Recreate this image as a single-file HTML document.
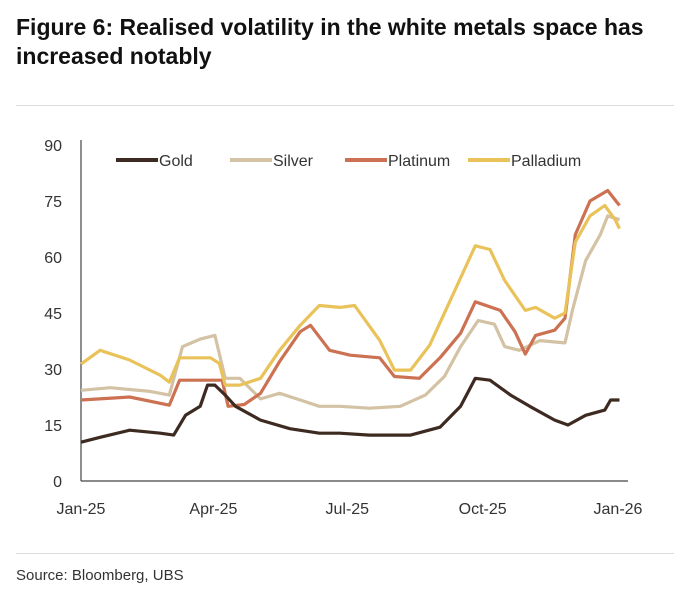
<!DOCTYPE html>
<html><head><meta charset="utf-8"><style>
body{margin:0;background:#fff;width:688px;height:602px;overflow:hidden;font-family:"Liberation Sans",sans-serif;}
.t{position:absolute;left:16px;top:13px;font-weight:bold;font-size:23px;line-height:29px;color:#111;white-space:nowrap;}
.rule{position:absolute;left:16px;width:658px;height:1px;background:#ddd;}
.src{position:absolute;left:16px;top:567px;font-size:15px;color:#333;}
</style></head><body>
<div class="t">Figure 6: Realised volatility in the white metals space has<br>increased notably</div>
<div class="rule" style="top:105px"></div>
<div class="rule" style="top:553px"></div>
<div class="src">Source: Bloomberg, UBS</div>
<svg id="c" width="688" height="602" style="position:absolute;left:0;top:0"></svg>
<script>
const yTicks=[0,15,30,45,60,75,90];
const xTickLabels=["Jan-25","Apr-25","Jul-25","Oct-25","Jan-26"];
const xTickDays=[0,90,181,273,365];
const seriesNames=["Gold","Silver","Platinum","Palladium"];
const goldDays=[0,13,33,54,63,71,81,86,91,98,105,122,142,162,176,196,224,244,258,268,278,292,305,322,331,343,356,360,366];
const goldVals=[10.4,11.7,13.6,12.8,12.3,17.6,20,25.7,25.7,23,20,16.3,14,12.8,12.8,12.3,12.3,14.4,20,27.5,27,23,20,16.3,15,17.6,19,21.7,21.7];
const silverDays=[0,20,47,60,69,81,91,98,108,122,135,149,162,176,196,217,234,247,258,270,281,288,298,312,329,334,343,353,358,366];
const silverVals=[24.3,25,24,23,36,38,39,27.5,27.5,22,23.5,21.7,20,20,19.5,20,23,28,36,43,42,36,35,37.6,37,45.7,59,66,71,70];
const platDays=[0,33,60,67,88,96,100,111,122,135,149,156,169,183,203,213,230,244,258,268,285,295,302,309,322,329,336,346,358,366];
const platVals=[21.7,22.5,20.3,27,27,27,20,20.5,23.5,32,40,41.7,35,33.7,33,28,27.5,33,39.6,48,45.7,40,34,39,40.4,43.6,66,75,77.8,73.8];
const pallDays=[0,13,33,54,60,67,88,94,98,108,122,135,149,162,176,186,203,213,224,237,251,268,278,288,302,309,322,329,336,346,356,363,366];
const pallVals=[31.3,35,32.4,28.3,26.5,33,33,31.5,25.7,25.7,27.5,35,41.7,47,46.5,47,37.7,29.7,29.7,36.4,48.4,63,62,53.7,45.7,46.5,43.6,45,64,71,73.8,70,67.6];
const colors=["#3d2b22","#d4c2a4","#cc7152","#e9c35a"];
const NS="http://www.w3.org/2000/svg";
const svg=document.getElementById('c');
const X0=81,X1=618,Y0=481,Y1=145;
function xs(d){return X0+d*(X1-X0)/365;}
function ys(v){return Y0-v*(Y0-Y1)/90;}
function mk(tag,attrs,txt){const e=document.createElementNS(NS,tag);for(const k in attrs)e.setAttribute(k,attrs[k]);if(txt!==undefined)e.textContent=txt;svg.appendChild(e);return e;}
yTicks.forEach(v=>{const t=mk('text',{x:62,y:ys(v)+6,'text-anchor':'end','font-size':16,fill:'#333','font-family':'Liberation Sans, sans-serif'},v);

});
xTickLabels.forEach((l,i)=>{const t=mk('text',{x:xs(xTickDays[i]),y:514,'text-anchor':'middle','font-size':16,fill:'#333','font-family':'Liberation Sans, sans-serif'},l);

});
const ya=mk('line',{x1:X0,y1:Y1-5,x2:X0,y2:Y0,stroke:'#444','stroke-width':1.2});


const xa=mk('line',{x1:X0,y1:Y0,x2:628,y2:Y0,stroke:'#444','stroke-width':1.2});


const all=[[goldDays,goldVals],[silverDays,silverVals],[platDays,platVals],[pallDays,pallVals]];
[1,2,3,0].forEach(i=>{const [d,v]=all[i];const p=mk('polyline',{points:d.map((dd,j)=>xs(dd).toFixed(1)+','+ys(v[j]).toFixed(1)).join(' '),fill:'none',stroke:colors[i],'stroke-width':3.2,'stroke-linejoin':'round'});

});
const legX=[116,230,345,468];
seriesNames.forEach((n,i)=>{const g=mk('g',{});


const l=document.createElementNS(NS,'line');l.setAttribute('x1',legX[i]);l.setAttribute('x2',legX[i]+42);l.setAttribute('y1',160);l.setAttribute('y2',160);l.setAttribute('stroke',colors[i]);l.setAttribute('stroke-width',4);g.appendChild(l);
const t=document.createElementNS(NS,'text');t.setAttribute('x',legX[i]+43);t.setAttribute('y',166);t.setAttribute('font-size',16);t.setAttribute('fill','#333');t.setAttribute('font-family','Liberation Sans, sans-serif');t.textContent=n;g.appendChild(t);});
</script>
</body></html>
